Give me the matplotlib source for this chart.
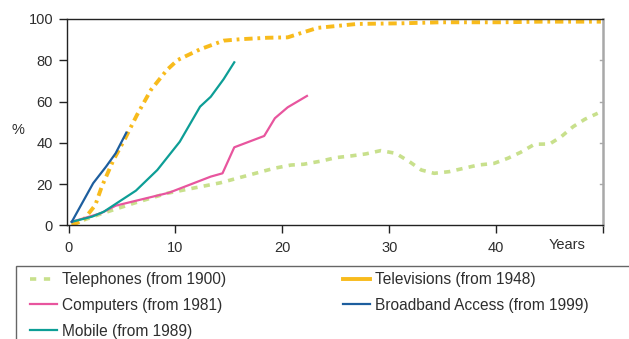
import matplotlib
matplotlib.use("Agg")
import matplotlib.pyplot as plt
from matplotlib.lines import Line2D
from matplotlib.patches import Rectangle

# -----------------------------
# Adoption data (years since introduction, % of households)
# -----------------------------
phone_years = [0.3, 3, 6.1, 9.2, 14.2, 19.2, 20.8, 22, 23.7, 25, 26.4, 27.8, 29.2,
               30.6, 31.9, 33, 34.2, 35.6, 38.3, 39.8, 41.1, 42.3, 43.6, 45, 46.1,
               47.2, 48.3, 49.5]
phone_pct = [0.5, 5.5, 10.7, 15.5, 20.6, 27.6, 29.2, 29.6, 31.2, 32.8, 33.6, 34.6, 36.2,
             34.9, 30.8, 26.8, 25.2, 26, 29.2, 30, 32.5, 35.4, 39.3, 39.4, 43,
             47.8, 51.4, 54.3]

tv_years = [0.3, 1.4, 2.5, 3.1, 4.2, 5.3, 6.4, 7.7, 9.2, 10.2, 12.3, 14.5, 16.1,
            18.6, 20.5, 21.7, 23.3, 27, 31.1, 34.8, 40.5, 44.2, 49.8]
tv_pct = [0, 2.6, 9.8, 18.7, 31.7, 42.2, 53.5, 65.6, 75.3, 80.1, 85.3, 89.5, 90.2,
          90.9, 91.1, 93.1, 95.7, 97.6, 97.9, 98.4, 98.4, 98.7, 98.7]

computer_years = [0.3, 3, 4.4, 9.4, 13.3, 14.4, 15.5, 18.3, 19.3, 20.5, 22.3]
computer_pct = [1.7, 5.8, 9.5, 15.8, 23.6, 25.2, 37.8, 43.3, 51.9, 57.2, 62.7]

broadband_years = [0.3, 2.3, 3.5, 4.4, 5.4]
broadband_pct = [1.7, 20.4, 28.4, 34.9, 44.9]

mobile_years = [0.3, 2.2, 3.3, 4.5, 6.3, 8.3, 10.4, 12.3, 13.3, 14.5, 15.5]
mobile_pct = [1.7, 4.2, 6.6, 10.7, 16.8, 26.8, 40.5, 57.5, 62.3, 70.8, 79]

x_ticks = [0, 10, 20, 30, 40, 50]
x_tick_labels = ["0", "10", "20", "30", "40", ""]
y_ticks = [0, 20, 40, 60, 80, 100]

labels = {
    "phone": "Telephones (from 1900)",
    "tv": "Televisions (from 1948)",
    "computer": "Computers (from 1981)",
    "broadband": "Broadband Access (from 1999)",
    "mobile": "Mobile (from 1989)",
}

PHONE = "#c8e08c"
TV = "#f8bb1c"
COMPUTER = "#e8559e"
BROADBAND = "#1d5e9e"
MOBILE = "#0d9e96"
TEXT = "#2e2e2e"

plt.rcParams["font.family"] = ["Liberation Sans", "DejaVu Sans"]
plt.rcParams["lines.scale_dashes"] = False

fig = plt.figure(figsize=(6.29, 3.39), dpi=100)
ax = fig.add_axes([0.1065, 0.3354, 0.8522, 0.6086])

ax.plot(phone_years, phone_pct, color=PHONE, lw=2.6, dashes=(4.5, 4.5))
ax.plot(tv_years, tv_pct, color=TV, lw=2.8, dashes=(6, 3.5, 2, 3.5))
ax.plot(computer_years, computer_pct, color=COMPUTER, lw=1.6)
ax.plot(mobile_years, mobile_pct, color=MOBILE, lw=1.6)
ax.plot(broadband_years, broadband_pct, color=BROADBAND, lw=1.6)

ax.set_xlim(-0.15, 50)
ax.set_ylim(0, 100)
ax.set_xticks(x_ticks)
ax.set_xticklabels(x_tick_labels)
ax.set_yticks(y_ticks)
ax.tick_params(axis="both", labelsize=10.5, colors="#222222", labelcolor=TEXT,
               length=6, width=1)
ax.tick_params(axis="x", pad=5)
ax.tick_params(axis="y", pad=4)

for side in ["left", "bottom", "top"]:
    ax.spines[side].set_color("#222222")
    ax.spines[side].set_linewidth(1)
ax.spines["right"].set_color("#a8a8a8")
ax.spines["right"].set_linewidth(1.8)

# small inward ticks on the right-hand edge
for v in y_ticks[1:-1]:
    ax.plot([49.7, 50], [v, v], color="#a8a8a8", lw=1, clip_on=False)

ax.text(46.6, -9.5, "Years", ha="center", va="center", fontsize=10.5, color=TEXT,
        clip_on=False)
ax.text(-0.091, 0.462, "%", transform=ax.transAxes, ha="center", va="center",
        fontsize=10.5, color=TEXT)

# legend box runs off the right and bottom edges
fig.patches.append(Rectangle((16 / 629, -0.2), 1.2, 0.2 + 1 - 265.5 / 339,
                             transform=fig.transFigure, fill=False,
                             edgecolor="#666666", lw=1))

handles = [
    Line2D([], [], color=PHONE, lw=2.6, dashes=(4.5, 5.5)),
    Line2D([], [], color=COMPUTER, lw=1.6),
    Line2D([], [], color=MOBILE, lw=1.6),
    Line2D([], [], color=TV, lw=2.8),
    Line2D([], [], color=BROADBAND, lw=1.6),
]
names = [labels["phone"], labels["computer"], labels["mobile"],
         labels["tv"], labels["broadband"]]
fig.legend(handles, names, ncol=2, loc="upper left",
           bbox_to_anchor=(30 / 629, 1 - 272 / 339), frameon=False,
           fontsize=11.2, labelcolor=TEXT, handlelength=1.74, handletextpad=0.32,
           columnspacing=7.5, labelspacing=0.7, borderaxespad=0, borderpad=0)

fig.savefig("out.png", dpi=100)
